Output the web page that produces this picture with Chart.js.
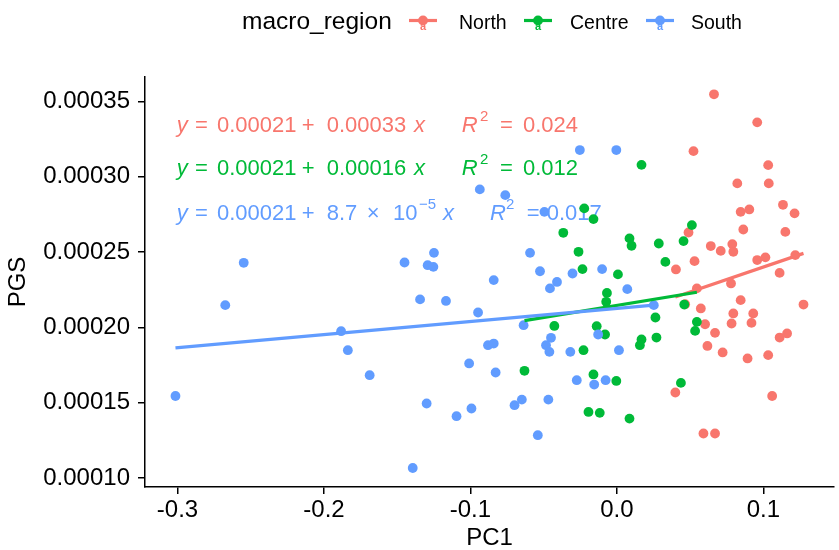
<!DOCTYPE html>
<html>
<head>
<meta charset="utf-8">
<script src="https://cdn.jsdelivr.net/npm/chart.js@4.4.1/dist/chart.umd.min.js"></script>
<style>
  body { margin: 0; background: #fff; }
  canvas { display: block; }
</style>
</head>
<body>
<canvas id="pgsChart" width="839" height="550"></canvas>
<script>
// Dados (PC1 x PGS por macro região)
const regions = ['North', 'Centre', 'South'];
const regionColors = ['#F8766D', '#00BA38', '#619CFF'];

const northPC1 = [0.0663, 0.0958, 0.0523, 0.1033, 0.0822, 0.1037, 0.1134, 0.1213, 0.0845, 0.0904,
  0.0863, 0.1150, 0.0489, 0.0641, 0.0709, 0.0788, 0.0795, 0.0530, 0.0403, 0.0958,
  0.1014, 0.1218, 0.1111, 0.0546, 0.0779, 0.0466, 0.0845, 0.0573, 0.1274, 0.0795,
  0.0931, 0.0783, 0.0919, 0.0602, 0.0670, 0.1111, 0.1162, 0.0618, 0.0722, 0.0892,
  0.1033, 0.0399, 0.1060, 0.0591, 0.0670];
const northPGS = [0.0003546, 0.0003360, 0.0003169, 0.0003076, 0.0002955, 0.0002955, 0.0002813, 0.0002756, 0.0002766, 0.0002782,
  0.0002649, 0.0002633, 0.0002629, 0.0002539, 0.0002507, 0.0002552, 0.0002501, 0.0002439, 0.0002384, 0.0002446,
  0.0002464, 0.0002479, 0.0002361, 0.0002258, 0.0002291, 0.0002153, 0.0002180, 0.0002125, 0.0002151, 0.0002092,
  0.0002092, 0.0002025, 0.0002029, 0.0002020, 0.0001963, 0.0001932, 0.0001959, 0.0001876, 0.0001833, 0.0001793,
  0.0001815, 0.0001567, 0.0001544, 0.0001295, 0.0001295];

const centrePC1 = [-0.0223, -0.0160, -0.0366, -0.0262, -0.0235, 0.0007, -0.0068, -0.0073, -0.0427, -0.0138,
  -0.0081, -0.0228, -0.0631, -0.0160, -0.0004, -0.0194, -0.0117, 0.0168, 0.0512, 0.0455,
  0.0086, 0.0100, 0.0286, 0.0331, 0.0460, 0.0263, 0.0270, 0.0168, 0.0157, 0.0546,
  0.0534, 0.0437, 0.0086];
const centrePGS = [0.0002789, 0.0002718, 0.0002627, 0.0002501, 0.0002386, 0.0002351, 0.0002228, 0.0002169, 0.0002009, 0.0002007,
  0.0001952, 0.0001848, 0.0001711, 0.0001687, 0.0001644, 0.0001438, 0.0001432, 0.0003078, 0.0002678, 0.0002572,
  0.0002590, 0.0002541, 0.0002556, 0.0002434, 0.0002151, 0.0002065, 0.0001932, 0.0001919, 0.0001881, 0.0002036,
  0.0001976, 0.0001631, 0.0001394];

const southPC1 = [-0.2548, -0.2674, -0.1883, -0.1837, -0.1688, -0.3014, -0.0253, -0.0936, -0.0762, -0.0495,
  -0.0593, -0.1450, -0.1249, -0.1292, -0.1253, -0.0525, -0.0303, -0.0409, -0.0457, -0.0841,
  -0.1344, -0.1167, -0.0948, -0.0637, -0.0450, -0.0484, -0.0461, -0.0880, -0.0841, -0.0318,
  -0.1009, -0.0828, -0.0274, -0.0155, -0.0077, -0.0128, -0.1299, -0.1095, -0.0993, -0.0699,
  -0.0649, -0.0468, -0.0540, -0.1394, -0.0004, -0.0101, 0.0071, 0.0252, 0.0014];
const southPGS = [0.0002428, 0.0002147, 0.0001974, 0.0001848, 0.0001682, 0.0001544, 0.0003176, 0.0002915, 0.0002877, 0.0002766,
  0.0002494, 0.0002430, 0.0002494, 0.0002412, 0.0002401, 0.0002372, 0.0002357, 0.0002301, 0.0002258, 0.0002313,
  0.0002185, 0.0002175, 0.0002098, 0.0002014, 0.0001930, 0.0001881, 0.0001837, 0.0001881, 0.0001892, 0.0001837,
  0.0001760, 0.0001700, 0.0001649, 0.0001620, 0.0001649, 0.0001952, 0.0001494, 0.0001410, 0.0001461, 0.0001483,
  0.0001520, 0.0001520, 0.0001284, 0.0001066, 0.0003176, 0.0002386, 0.0002253, 0.0002147, 0.0001848];

// Retas de regressão (intercepto e inclinação por região)
const fitIntercept = [0.000207, 0.0002145, 0.0002125];
const fitSlope = [0.00033, 0.00016, 0.000087];

const xTicks = [-0.3, -0.2, -0.1, 0.0, 0.1];
const yTicks = [0.0001, 0.00015, 0.0002, 0.00025, 0.0003, 0.00035];

// Textos das equações
const eqLines = [
  { color: regionColors[0], tokens: [['y', 176.7, 'i'], ['=', 195], ['0.00021', 217], ['+', 301.7], ['0.00033', 326.7], ['x', 414, 'i'], ['R', 461.7, 'i'], ['2', 480, 's'], ['=', 500], ['0.024', 523]] },
  { color: regionColors[1], tokens: [['y', 176.7, 'i'], ['=', 195], ['0.00021', 217], ['+', 301.7], ['0.00016', 326.7], ['x', 414, 'i'], ['R', 461.7, 'i'], ['2', 480, 's'], ['=', 500], ['0.012', 523]] },
  { color: regionColors[2], tokens: [['y', 176.7, 'i'], ['=', 195], ['0.00021', 217], ['+', 301.7], ['8.7', 326.7], ['\u00d7', 366.7], ['10', 393], ['\u22125', 419, 's'], ['x', 443, 'i'], ['R', 490, 'i'], ['2', 506, 's'], ['=', 526.7], ['0.017', 546.7]] }
];
const eqBaselines = [131.7, 175, 220];

const FONT = "'Liberation Sans', Arial, sans-serif";
Chart.defaults.font.family = FONT;
Chart.defaults.color = '#000';

function pts(xs, ys) {
  return xs.map((x, i) => ({ x: x, y: ys[i] }));
}

function fitLine(xs, k) {
  const lo = Math.min(...xs), hi = Math.max(...xs);
  return [
    { x: lo, y: fitIntercept[k] + fitSlope[k] * lo },
    { x: hi, y: fitIntercept[k] + fitSlope[k] * hi }
  ];
}

const groups = [[northPC1, northPGS], [centrePC1, centrePGS], [southPC1, southPGS]];

// primeiro dataset fica por cima: retas azul, verde, vermelha e depois pontos
const datasets = [];
[2, 1, 0].forEach(k => {
  datasets.push({
    type: 'line',
    label: regions[k] + ' fit',
    data: fitLine(groups[k][0], k),
    borderColor: regionColors[k],
    borderWidth: 3.2,
    pointRadius: 0,
    fill: false
  });
});
[2, 1, 0].forEach(k => {
  datasets.push({
    type: 'scatter',
    label: regions[k],
    data: pts(groups[k][0], groups[k][1]),
    backgroundColor: regionColors[k],
    borderWidth: 0,
    pointRadius: 4.9
  });
});

// Equações desenhadas antes dos pontos
const equationPlugin = {
  id: 'equations',
  beforeDatasetsDraw(chart) {
    const ctx = chart.ctx;
    ctx.save();
    ctx.textBaseline = 'alphabetic';
    ctx.textAlign = 'left';
    eqLines.forEach((line, i) => {
      ctx.fillStyle = line.color;
      line.tokens.forEach(tk => {
        const style = tk[2];
        if (style === 's') {
          ctx.font = '15px ' + FONT;
          ctx.fillText(tk[0], tk[1], eqBaselines[i] - 11);
        } else {
          ctx.font = (style === 'i' ? 'italic ' : '') + '22px ' + FONT;
          ctx.fillText(tk[0], tk[1], eqBaselines[i]);
        }
      });
    });
    ctx.restore();
  }
};

// Legenda no topo no estilo ggplot
const legendPlugin = {
  id: 'topLegend',
  afterDraw(chart) {
    const ctx = chart.ctx;
    const keyX = [423, 538, 660];
    const labelX = [459, 570, 691];
    const keyY = 20.5;
    ctx.save();
    ctx.fillStyle = '#000';
    ctx.textBaseline = 'alphabetic';
    ctx.font = '24.5px ' + FONT;
    ctx.fillText('macro_region', 242, 28.7);
    regions.forEach((r, k) => {
      ctx.strokeStyle = regionColors[k];
      ctx.lineWidth = 3.2;
      ctx.beginPath();
      ctx.moveTo(keyX[k] - 14, keyY);
      ctx.lineTo(keyX[k] + 14, keyY);
      ctx.stroke();
      ctx.fillStyle = regionColors[k];
      ctx.beginPath();
      ctx.arc(keyX[k], keyY, 4.9, 0, Math.PI * 2);
      ctx.fill();
      ctx.font = 'bold 11px ' + FONT;
      ctx.fillText('a', keyX[k] - 3, keyY + 9);
      ctx.fillStyle = '#000';
      ctx.font = '19.5px ' + FONT;
      ctx.fillText(r, labelX[k], 28.7);
    });
    ctx.restore();
  }
};

const config = {
  type: 'scatter',
  data: { datasets: datasets },
  options: {
    responsive: false,
    animation: false,
    layout: { padding: { top: 77, right: 1, bottom: 0, left: 0 } },
    plugins: {
      legend: { display: false },
      tooltip: { enabled: false }
    },
    scales: {
      x: {
        type: 'linear',
        min: -0.3222,
        max: 0.1483,
        afterBuildTicks: s => { s.ticks = xTicks.map(v => ({ value: v })); },
        afterFit: s => { s.height = 63; },
        ticks: {
          font: { size: 24 },
          color: '#000',
          padding: 2,
          maxRotation: 0,
          callback: v => v.toFixed(1)
        },
        grid: { display: true, drawOnChartArea: false, drawTicks: true, tickLength: 7, color: '#000', lineWidth: 1.5 },
        border: { display: true, color: '#000', width: 1.5 },
        title: { display: true, text: 'PC1', font: { size: 24, lineHeight: 1.0 }, color: '#000', padding: { top: 0, bottom: 0 } }
      },
      y: {
        type: 'linear',
        min: 0.0000940,
        max: 0.0003661,
        afterBuildTicks: s => { s.ticks = yTicks.map(v => ({ value: v })); },
        afterFit: s => { s.width = 145; },
        ticks: {
          font: { size: 24 },
          color: '#000',
          padding: 8,
          callback: v => v.toFixed(5)
        },
        grid: { display: true, drawOnChartArea: false, drawTicks: true, tickLength: 7, color: '#000', lineWidth: 1.5 },
        border: { display: true, color: '#000', width: 1.5 },
        title: { display: true, text: 'PGS', font: { size: 24 }, color: '#000', padding: { top: 4, bottom: 0 } }
      }
    }
  },
  plugins: [equationPlugin, legendPlugin]
};

window.onload = function() {
  const ctx = document.getElementById('pgsChart').getContext('2d');
  new Chart(ctx, config);
};
</script>
</body>
</html>
